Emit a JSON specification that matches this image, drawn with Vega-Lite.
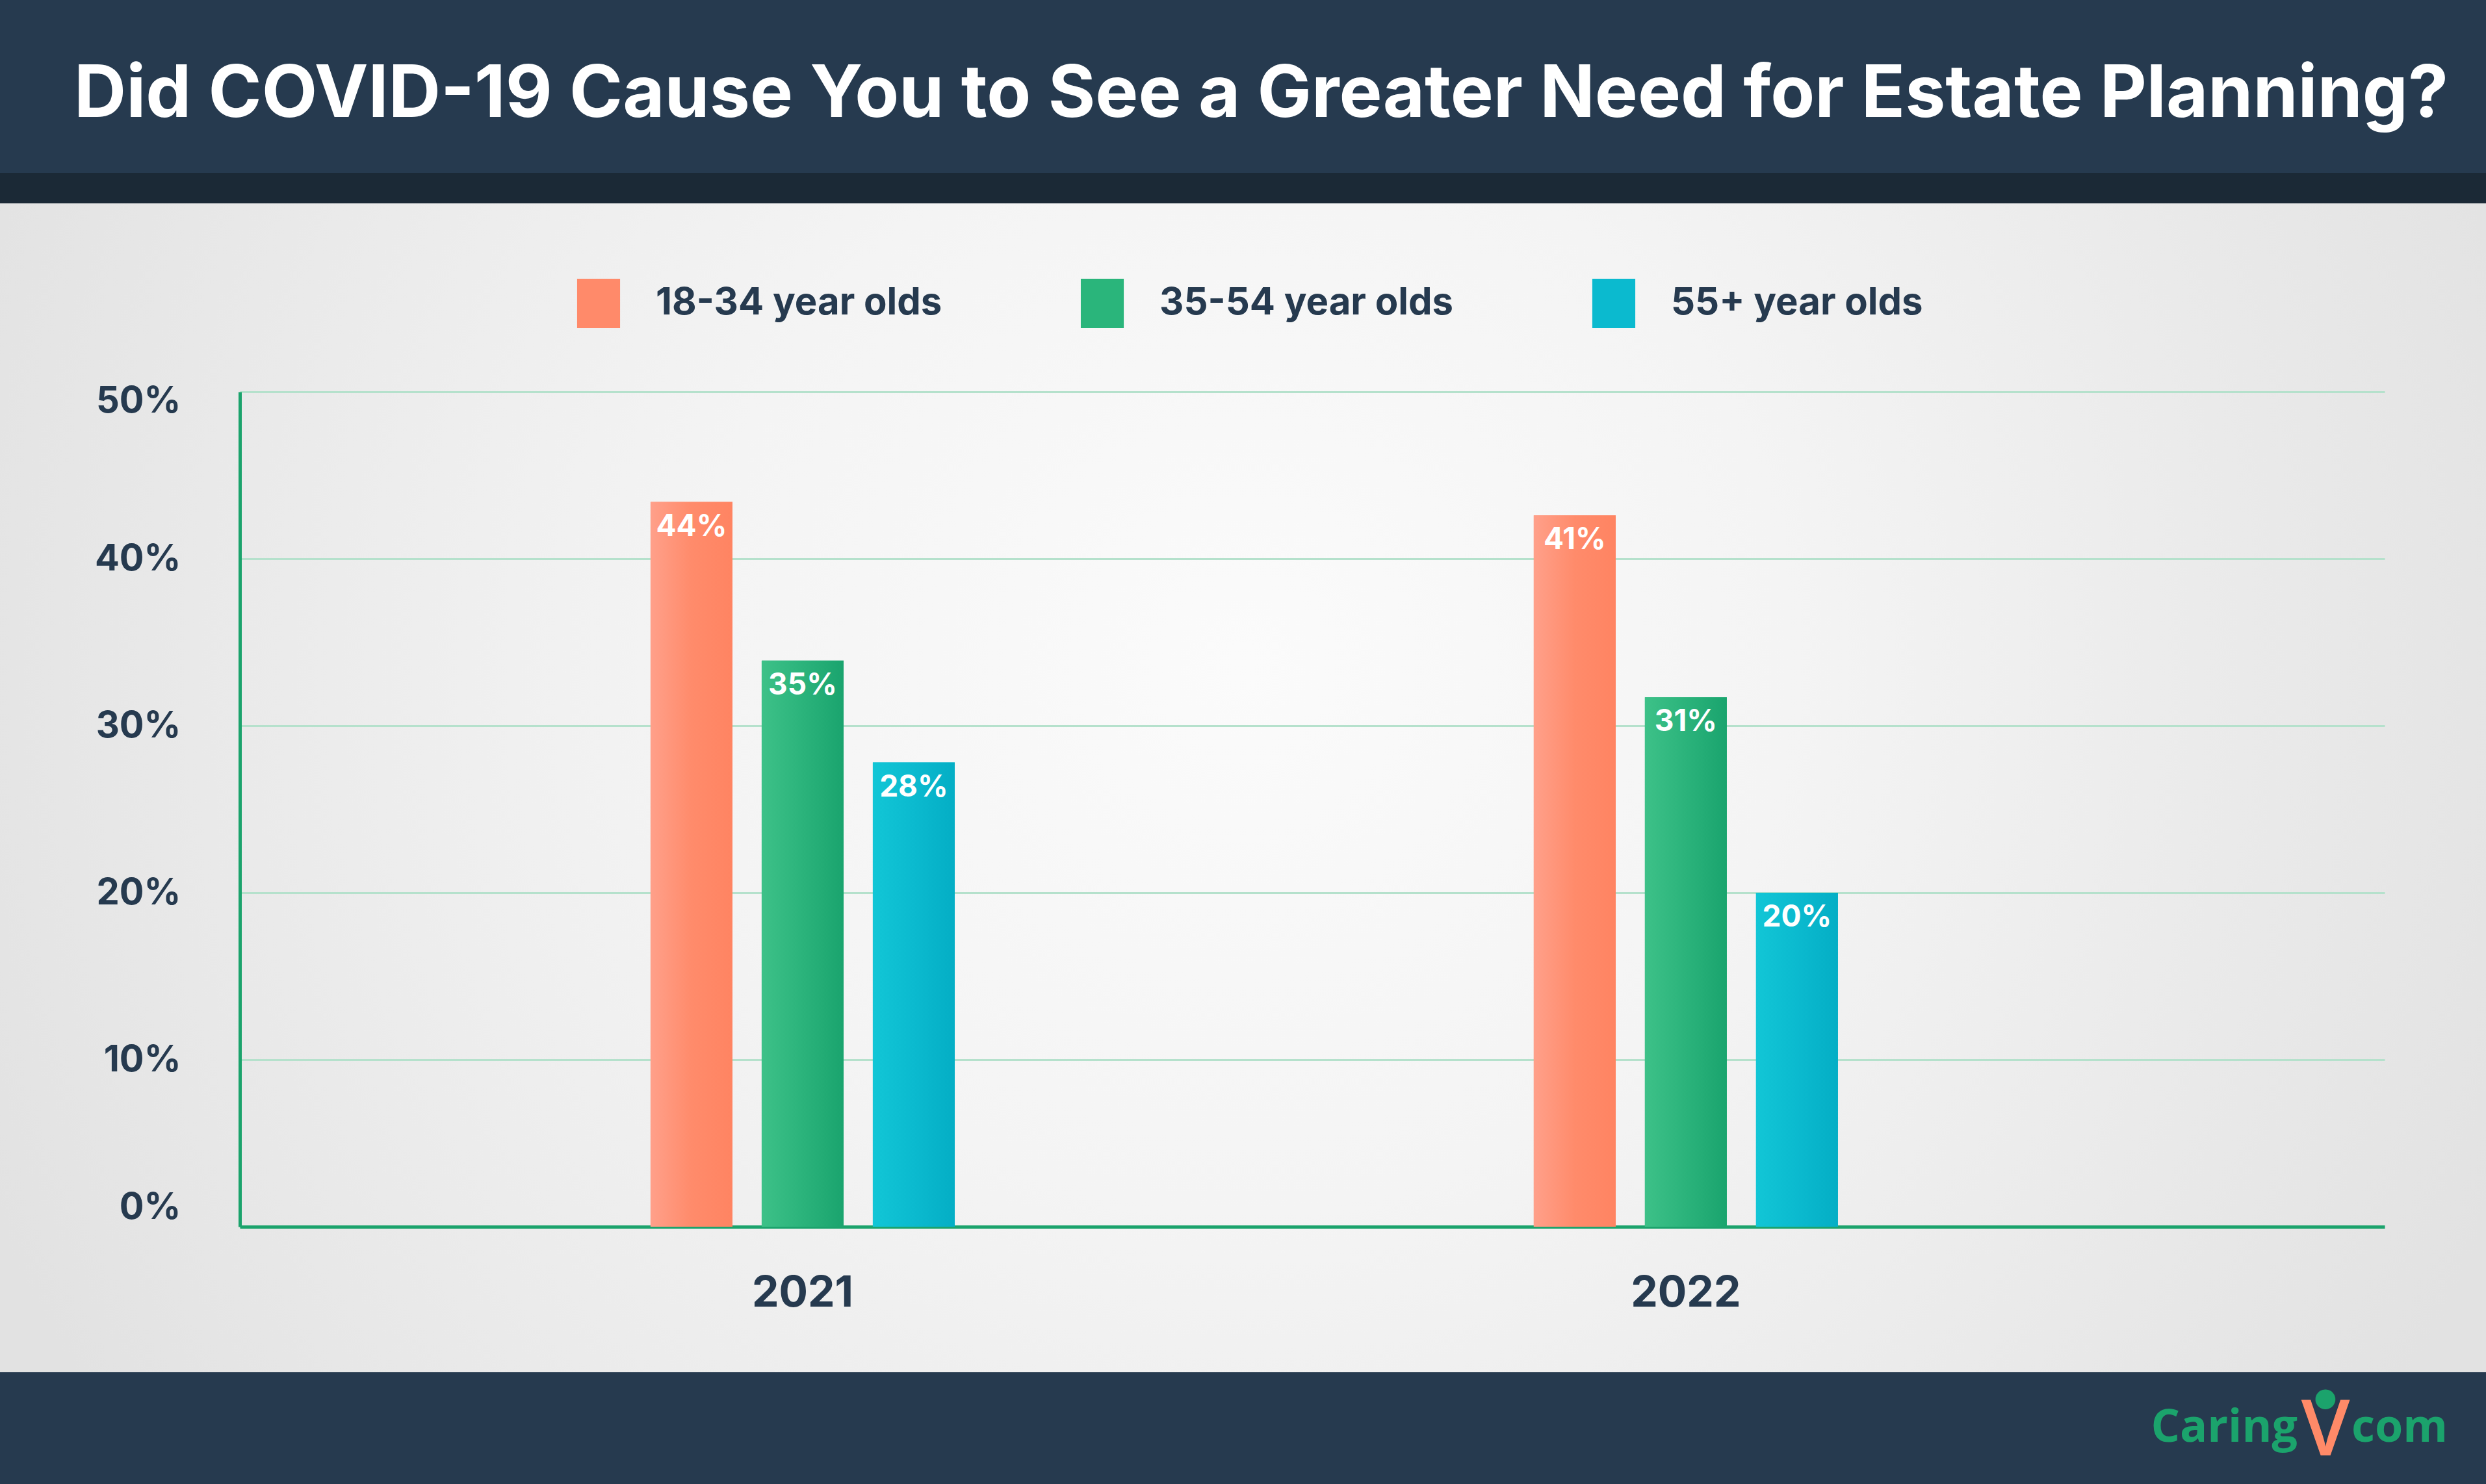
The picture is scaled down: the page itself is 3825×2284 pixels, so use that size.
{
  "$schema": "https://vega.github.io/schema/vega-lite/v6.json",
  "background": "#263a4f",
  "padding": 0,
  "spacing": 0,
  "config": {"view": {"stroke": null}, "concat": {"spacing": 0}},
  "datasets": {
    "survey": [
      {"year": "2021", "group": "18-34 year olds", "value": 43.4, "label": "44%"},
      {"year": "2021", "group": "35-54 year olds", "value": 33.9, "label": "35%"},
      {"year": "2021", "group": "55+ year olds", "value": 27.8, "label": "28%"},
      {"year": "2022", "group": "18-34 year olds", "value": 42.6, "label": "41%"},
      {"year": "2022", "group": "35-54 year olds", "value": 31.7, "label": "31%"},
      {"year": "2022", "group": "55+ year olds", "value": 20.0, "label": "20%"}
    ]
  },
  "vconcat": [
    {
      "width": 3825,
      "height": 266,
      "data": {"values": [{"title": "Did COVID-19 Cause You to See a Greater Need for Estate Planning?"}]},
      "mark": {"type": "text", "font": "Inter", "fontWeight": 700, "fontSize": 111, "fill": "#ffffff", "align": "center", "baseline": "middle", "dx": 28, "dy": 14},
      "encoding": {"text": {"field": "title", "type": "nominal"}}
    },
    {
      "width": 3825,
      "height": 47,
      "view": {"fill": "#1b2936", "stroke": null},
      "data": {"values": [{"band": "divider"}]},
      "mark": {"type": "rect", "fill": "#1b2936"},
      "encoding": {}
    },
    {
      "width": 3825,
      "height": 1799,
      "view": {
        "stroke": null,
        "fill": {
          "gradient": "radial",
          "x1": 0.5, "y1": 0.45, "r1": 0,
          "x2": 0.5, "y2": 0.45, "r2": 0.55,
          "stops": [
            {"offset": 0, "color": "#fbfbfb"},
            {"offset": 0.4, "color": "#f4f4f4"},
            {"offset": 1, "color": "#e2e2e2"}
          ]
        }
      },
      "data": {"name": "survey"},
      "layer": [
        {
          "mark": {"type": "bar"},
          "encoding": {
            "x": {
              "field": "year", "type": "nominal", "title": null,
              "scale": {"range": [369, 3669], "paddingInner": 0.6556, "paddingOuter": 0.542, "align": 0.429},
              "axis": {"offset": -224, "domainColor": "#1ba36c", "domainWidth": 5, "ticks": false, "grid": false, "labelAngle": 0, "labelFont": "Inter", "labelFontWeight": 700, "labelFontSize": 66, "labelColor": "#263a4f", "labelPadding": 70, "title": null}
            },
            "xOffset": {
              "field": "group", "type": "nominal",
              "scale": {"domain": ["18-34 year olds", "35-54 year olds", "55+ year olds"], "paddingInner": 0.263, "paddingOuter": 0}
            },
            "y": {
              "field": "value", "type": "quantitative", "title": null,
              "scale": {"domain": [0, 50], "range": [1575, 290], "nice": false, "zero": true},
              "axis": {"values": [0, 10, 20, 30, 40, 50], "labelExpr": "datum.value + '%'", "labelOffset": {"expr": "datum.value === 0 ? -30 : datum.value === 50 ? 14 : 0"}, "offset": -369, "domainColor": "#1ba36c", "domainWidth": 5, "ticks": false, "grid": true, "gridColor": "#b5e1cc", "gridWidth": 3, "labelFont": "Inter", "labelFontWeight": 700, "labelFontSize": 56, "labelColor": "#263a4f", "labelPadding": 91, "title": null}
            },
            "color": {
              "field": "group", "type": "nominal",
              "scale": {"domain": ["18-34 year olds", "35-54 year olds", "55+ year olds"], "range": ["#ff8a6a", "#2ab57b", "#0bbacf"]},
              "legend": {"orient": "none", "legendX": 883, "legendY": 429, "direction": "horizontal", "title": null, "padding": 0, "symbolType": "M-0.87,-1H0.87V1H-0.87Z", "symbolSize": 5776, "symbolStrokeWidth": 0, "symbolOpacity": 1, "labelFont": "Inter", "labelFontWeight": 700, "labelFontSize": 58, "labelColor": "#263a4f", "labelOffset": 50, "columnPadding": 208, "labelLimit": 0}
            }
          }
        },
        {
          "transform": [{"filter": "datum.group === '18-34 year olds'"}],
          "mark": {"type": "bar", "fill": {"gradient": "linear", "x1": 0, "y1": 0, "x2": 1, "y2": 0, "stops": [{"offset": 0, "color": "#ffa08a"}, {"offset": 0.5, "color": "#ff8b6b"}, {"offset": 1, "color": "#ff8462"}]}},
          "encoding": {
            "x": {"field": "year", "type": "nominal", "title": null},
            "xOffset": {"field": "group", "type": "nominal"},
            "y": {"field": "value", "type": "quantitative", "title": null}
          }
        },
        {
          "transform": [{"filter": "datum.group === '35-54 year olds'"}],
          "mark": {"type": "bar", "fill": {"gradient": "linear", "x1": 0, "y1": 0, "x2": 1, "y2": 0, "stops": [{"offset": 0, "color": "#3dc188"}, {"offset": 0.5, "color": "#2bb37b"}, {"offset": 1, "color": "#1aa46e"}]}},
          "encoding": {
            "x": {"field": "year", "type": "nominal", "title": null},
            "xOffset": {"field": "group", "type": "nominal"},
            "y": {"field": "value", "type": "quantitative", "title": null}
          }
        },
        {
          "transform": [{"filter": "datum.group === '55+ year olds'"}],
          "mark": {"type": "bar", "fill": {"gradient": "linear", "x1": 0, "y1": 0, "x2": 1, "y2": 0, "stops": [{"offset": 0, "color": "#12c6d6"}, {"offset": 0.5, "color": "#0bbacf"}, {"offset": 1, "color": "#04aec5"}]}},
          "encoding": {
            "x": {"field": "year", "type": "nominal", "title": null},
            "xOffset": {"field": "group", "type": "nominal"},
            "y": {"field": "value", "type": "quantitative", "title": null}
          }
        },
        {
          "mark": {"type": "text", "font": "Inter", "fontWeight": 700, "fontSize": 46, "fill": "#ffffff", "align": "center", "baseline": "top", "dy": 16},
          "encoding": {
            "x": {"field": "year", "type": "nominal", "title": null},
            "xOffset": {"field": "group", "type": "nominal"},
            "y": {"field": "value", "type": "quantitative", "title": null},
            "text": {"field": "label", "type": "nominal"}
          }
        }
      ]
    },
    {
      "width": 3825,
      "height": 172,
      "layer": [
        {
          "data": {"values": [{"word": "Caring"}]},
          "mark": {"type": "text", "font": "Open Sans", "fontWeight": 700, "fontSize": 70, "fill": "#1ba36c", "align": "right", "baseline": "middle", "dx": -290},
          "encoding": {"x": {"value": "width"}, "text": {"field": "word", "type": "nominal"}}
        },
        {
          "data": {"values": [{"word": "V"}]},
          "mark": {"type": "text", "font": "Open Sans", "fontWeight": 600, "fontSize": 120, "fill": "#ff8a68", "align": "center", "baseline": "middle", "dx": -247, "dy": 6},
          "encoding": {"x": {"value": "width"}, "text": {"field": "word", "type": "nominal"}}
        },
        {
          "data": {"values": [{"word": "●"}]},
          "mark": {"type": "text", "font": "DejaVu Sans", "fontSize": 40, "fill": "#1ba36c", "align": "center", "baseline": "middle", "dx": -247, "dy": -46},
          "encoding": {"x": {"value": "width"}, "text": {"field": "word", "type": "nominal"}}
        },
        {
          "data": {"values": [{"word": "com"}]},
          "mark": {"type": "text", "font": "Open Sans", "fontWeight": 700, "fontSize": 70, "fill": "#1ba36c", "align": "left", "baseline": "middle", "dx": -207},
          "encoding": {"x": {"value": "width"}, "text": {"field": "word", "type": "nominal"}}
        }
      ]
    }
  ]
}
